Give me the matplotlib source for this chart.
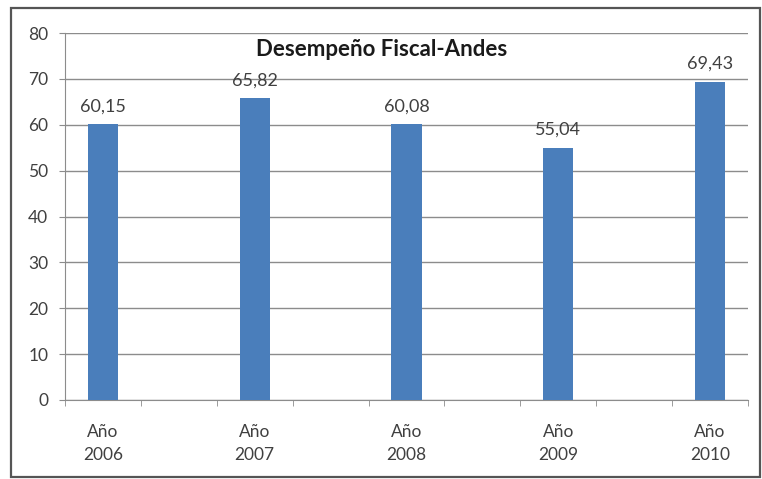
import matplotlib.pyplot as plt
import matplotlib.patches as patches
import numpy as np

plt.rcParams['font.family'] = ['Lato', 'DejaVu Sans']

years = ['Año\n2006', 'Año\n2007', 'Año\n2008', 'Año\n2009', 'Año\n2010']
values = [60.15, 65.82, 60.08, 55.04, 69.43]
value_labels = ['60,15', '65,82', '60,08', '55,04', '69,43']
yticks = [0, 10, 20, 30, 40, 50, 60, 70, 80]

# the original sheet has an empty column between years
x = np.arange(len(years)) * 2
n_slots = len(years) * 2 - 1

fig = plt.figure(figsize=(7.62, 4.79), dpi=100)
ax = fig.add_axes([0.0853, 0.165, 0.8963, 0.766])

bars = ax.bar(x, values, width=0.4, color='#4a7ebb', zorder=3)
for xi, v, lab in zip(x, values, value_labels):
    ax.annotate(lab, (xi, v), xytext=(0, 7), textcoords='offset points',
                ha='center', va='bottom', fontsize=13, color='#404040')

ax.set_xlim(-0.5, n_slots - 0.5)
ax.set_ylim(0, 80)
ax.set_yticks(yticks)
ax.yaxis.grid(True, color='#8c8c8c', lw=1)
ax.set_axisbelow(True)

ax.set_xticks(x)
ax.set_xticklabels(years, fontsize=12.5, color='#404040', linespacing=1.6)
ax.set_xticks(np.arange(n_slots + 1) - 0.5, minor=True)
ax.tick_params(axis='x', which='major', length=0, pad=17)
ax.tick_params(axis='x', which='minor', length=4, color='#8c8c8c')
ax.tick_params(axis='y', length=4, color='#8c8c8c', labelsize=12.5,
               labelcolor='#404040', pad=8)

for s in ['top', 'right']:
    ax.spines[s].set_visible(False)
ax.spines['left'].set_color('#8c8c8c')
ax.spines['bottom'].set_color('#8c8c8c')

ax.text(0.464, 0.985, 'Desempeño Fiscal-Andes', transform=ax.transAxes,
        ha='center', va='top', fontsize=16, fontweight='bold', color='#1a1a1a')

border = patches.Rectangle((11 / 762, 2 / 479), 749 / 762, 469 / 479,
                           transform=fig.transFigure, fill=False,
                           edgecolor='#555555', lw=1.6)
fig.patches.append(border)

fig.savefig('out.png', dpi=100)
